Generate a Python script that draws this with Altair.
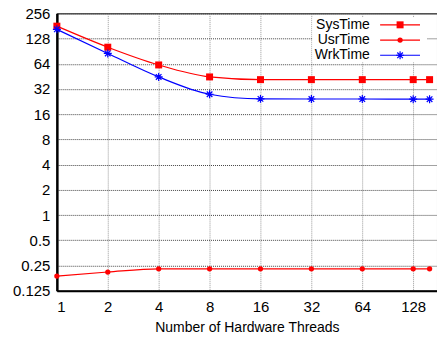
import altair as alt
import pandas as pd

threads = [1, 2, 4, 8, 16, 32, 64, 128, 160]
sys_time = [180, 101, 62, 44.6, 41.4, 41.4, 41.4, 41.4, 41.4]
usr_time = [0.187, 0.209, 0.228, 0.228, 0.228, 0.228, 0.228, 0.228, 0.228]
wrk_time = [165, 85, 44.6, 27.7, 24.4, 24.3, 24.3, 24.2, 24.2]
series_names = ["SysTime", "UsrTime", "WrkTime"]
series_colors = ["#ff0000", "#ff0000", "#0000ff"]
x_ticks = [1, 2, 4, 8, 16, 32, 64, 128]
y_ticks = [0.125, 0.25, 0.5, 1, 2, 4, 8, 16, 32, 64, 128, 256]

rows = []
for name, vals in zip(series_names, [sys_time, usr_time, wrk_time]):
    for t, v in zip(threads, vals):
        rows.append({"threads": t, "value": v, "series": name})
df = pd.DataFrame(rows)
legend_df = pd.DataFrame({"series": series_names})

FONT = "Liberation Sans"
ASTER = "M0,-1V1M-1,0H1M-0.7,-0.7L0.7,0.7M-0.7,0.7L0.7,-0.7"

xscale = alt.Scale(type="log", base=2, domain=[1, 177], nice=False)
yscale = alt.Scale(type="log", base=2, domain=[0.125, 256], nice=False)
cscale = alt.Scale(domain=series_names, range=series_colors)

xaxis = alt.Axis(
    values=x_ticks, format="~g", title="Number of Hardware Threads",
    ticks=False, labelPadding=9, titlePadding=6,
    domainColor="#000", domainWidth=2,
    gridColor="#999", gridDash=[1, 1], gridWidth=1,
    labelFont=FONT, labelFontSize=15, labelColor="#000",
    titleFont=FONT, titleFontSize=14, titleColor="#000", titleFontWeight="normal",
)
yaxis = alt.Axis(
    values=y_ticks, format="~g", title=None,
    ticks=False, labelPadding=7,
    domainColor="#000", domainWidth=2.5,
    gridColor="#444", gridDash=[1, 1], gridWidth=1,
    labelFont=FONT, labelFontSize=15, labelColor="#000",
)

base = alt.Chart(df)
X = alt.X("threads:Q", scale=xscale, axis=xaxis)
Y = alt.Y("value:Q", scale=yscale, axis=yaxis)

lines = base.mark_line(interpolate="monotone", strokeWidth=1.2).encode(
    x=X, y=Y, color=alt.Color("series:N", scale=cscale, legend=None),
)

sys_pts = base.transform_filter(alt.datum.series == "SysTime").mark_point(
    shape="square", size=49, filled=True, opacity=1, color="#ff0000"
).encode(x=X, y=Y)

usr_pts = base.transform_filter(alt.datum.series == "UsrTime").mark_point(
    shape="circle", size=28, filled=True, opacity=1, color="#ff0000"
).encode(x=X, y=Y)

wrk_pts = base.transform_filter(alt.datum.series == "WrkTime").mark_point(
    shape=ASTER, size=64, filled=False, opacity=1, color="#0000ff", strokeWidth=1.2
).encode(x=X, y=Y)

data_layer = alt.layer(lines, sys_pts, usr_pts, wrk_pts)

# legend (top right, labels left of the sample line, on a white box)
lbase = alt.Chart(legend_df)
LY = alt.Y("series:N", scale=alt.Scale(type="point", domain=series_names, range=[11.5, 42], padding=0), axis=None)

leg_box = lbase.transform_filter(alt.datum.series == "SysTime").mark_rect(color="white").encode(
    x=alt.value(256), x2=alt.value(371), y=alt.value(4), y2=alt.value(49)
)
leg_text = lbase.mark_text(align="right", baseline="middle", font=FONT, fontSize=14, color="#000").encode(
    x=alt.value(313.7), y=LY, text="series:N"
)
leg_rule = lbase.mark_rule(strokeWidth=1.2).encode(
    x=alt.value(324), x2=alt.value(364), y=LY,
    color=alt.Color("series:N", scale=cscale, legend=None),
)
leg_sys = lbase.transform_filter(alt.datum.series == "SysTime").mark_point(
    shape="square", size=49, filled=True, opacity=1, color="#ff0000"
).encode(x=alt.value(344), y=LY)
leg_usr = lbase.transform_filter(alt.datum.series == "UsrTime").mark_point(
    shape="circle", size=28, filled=True, opacity=1, color="#ff0000"
).encode(x=alt.value(344), y=LY)
leg_wrk = lbase.transform_filter(alt.datum.series == "WrkTime").mark_point(
    shape=ASTER, size=64, filled=False, opacity=1, color="#0000ff", strokeWidth=1.2
).encode(x=alt.value(344), y=LY)

legend_layer = alt.layer(leg_box, leg_text, leg_rule, leg_sys, leg_usr, leg_wrk)

chart = alt.layer(data_layer, legend_layer).resolve_scale(y="independent").properties(
    width=381, height=278,
    background="white",
    autosize=alt.AutoSizeParams(type="none"),
    padding={"left": 57, "top": 13, "right": 0, "bottom": 48},
).configure_view(
    stroke="#000", strokeWidth=1
)

chart.save("out.html", embed_options={"renderer": "svg", "actions": False})
